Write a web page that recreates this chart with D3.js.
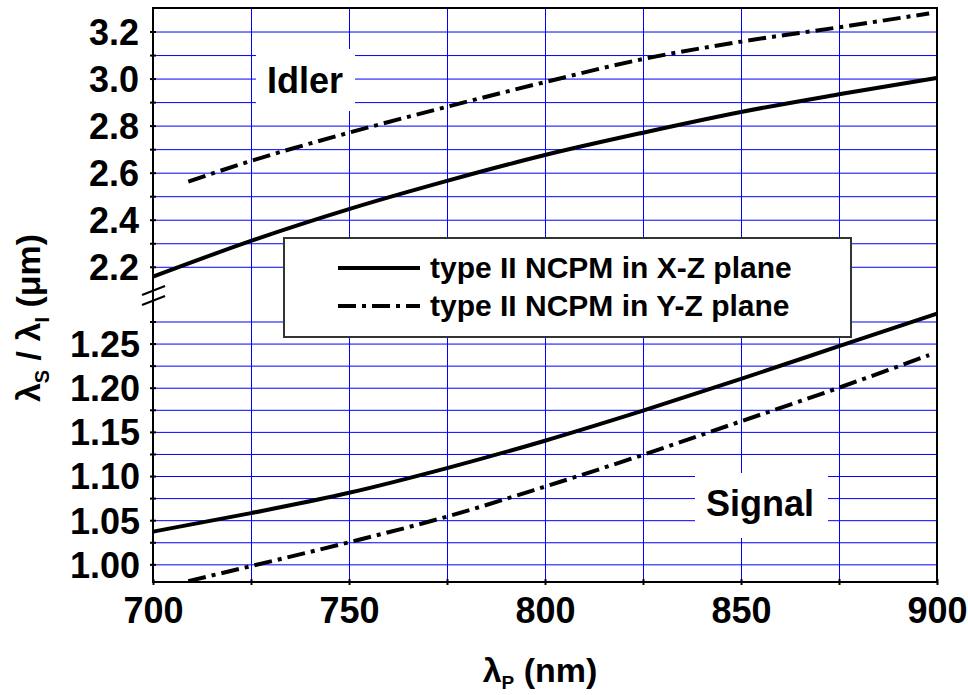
<!DOCTYPE html>
<html>
<head>
<meta charset="utf-8">
<script src="https://cdn.jsdelivr.net/npm/d3@7"></script>
<style>
body { margin: 0; background: #fff; }
text { font-family: "Liberation Sans", Arial, sans-serif; font-weight: bold; fill: #000; }
</style>
</head>
<body>
<div id="chart"></div>
<script>
// pump wavelength (nm) and signal / idler wavelengths (um)
var xzLambda = [700, 725, 750, 775, 800, 825, 850, 875, 900];
var xzIdler  = [2.158, 2.31, 2.445, 2.565, 2.675, 2.77, 2.858, 2.933, 3.003];
var xzSignal = [1.037, 1.058, 1.081, 1.109, 1.140, 1.174, 1.210, 1.247, 1.284];

var yzLambda = [709, 725, 750, 775, 800, 825, 850, 875, 898];
var yzIdler  = [2.562, 2.65, 2.77, 2.88, 2.985, 3.083, 3.157, 3.218, 3.277];
var yzSignal = [0.981, 0.998, 1.025, 1.054, 1.088, 1.124, 1.162, 1.200, 1.237];

var xTicks = [700, 750, 800, 850, 900];
var xGrid = [725, 750, 775, 800, 825, 850, 875];
var upperTicks = [2.2, 2.4, 2.6, 2.8, 3.0, 3.2];
var upperGrid = [2.2, 2.3, 2.4, 2.5, 2.6, 2.7, 2.8, 2.9, 3.0, 3.1, 3.2];
var lowerTicks = [1.00, 1.05, 1.10, 1.15, 1.20, 1.25];
var lowerGrid = [1.00, 1.025, 1.05, 1.075, 1.10, 1.125, 1.15, 1.175, 1.20, 1.225, 1.25, 1.275];

var W = 968, H = 695;
var pLeft = 153, pRight = 937, pTop = 8, pBottom = 582, brk = 295;

var svg = d3.select("#chart").append("svg")
    .attr("width", W)
    .attr("height", H);

var x = d3.scaleLinear().domain([700, 900]).range([pLeft, pRight]);
var yUp = d3.scaleLinear().domain([2.08, 3.3]).range([brk, pTop]);
var yLo = d3.scaleLinear().domain([0.98, 1.305]).range([pBottom, brk]);

var blue = "#0000ff";

// grid
var grid = svg.append("g");
grid.append("g")
    .attr("transform", "translate(0," + pBottom + ")")
    .call(d3.axisBottom(x).tickValues(xGrid).tickSize(-(pBottom - pTop)).tickFormat(""))
    .call(function(g) { g.select(".domain").remove(); g.selectAll("line").attr("stroke", blue); });
grid.append("g")
    .attr("transform", "translate(" + pLeft + ",0)")
    .call(d3.axisLeft(yUp).tickValues(upperGrid).tickSize(-(pRight - pLeft)).tickFormat(""))
    .call(function(g) { g.select(".domain").remove(); g.selectAll("line").attr("stroke", blue); });
grid.append("g")
    .attr("transform", "translate(" + pLeft + ",0)")
    .call(d3.axisLeft(yLo).tickValues(lowerGrid).tickSize(-(pRight - pLeft)).tickFormat(""))
    .call(function(g) { g.select(".domain").remove(); g.selectAll("line").attr("stroke", blue); });

// white label boxes
svg.append("rect").attr("x", 256).attr("y", 49).attr("width", 99).attr("height", 62).attr("fill", "#fff");
svg.append("rect").attr("x", 695).attr("y", 473).attr("width", 133).attr("height", 65).attr("fill", "#fff");
svg.append("text").attr("x", 305).attr("y", 93).attr("text-anchor", "middle")
    .style("font-size", "36px").text("Idler");
svg.append("text").attr("x", 760).attr("y", 516).attr("text-anchor", "middle")
    .style("font-size", "36px").text("Signal");

// curves
var dashDot = "18,6,4,6";
function curve(lams, vals, y, dash) {
  var line = d3.line()
      .x(function(d, i) { return x(lams[i]); })
      .y(function(d) { return y(d); })
      .curve(d3.curveMonotoneX);
  svg.append("path")
      .datum(vals)
      .attr("d", line)
      .attr("fill", "none")
      .attr("stroke", "#000")
      .attr("stroke-width", 4)
      .attr("stroke-dasharray", dash);
}
curve(xzLambda, xzIdler, yUp, null);
curve(xzLambda, xzSignal, yLo, null);
curve(yzLambda, yzIdler, yUp, dashDot);
curve(yzLambda, yzSignal, yLo, dashDot);

// legend
var lg = svg.append("g");
lg.append("rect").attr("x", 284).attr("y", 238).attr("width", 567).attr("height", 99)
    .attr("fill", "#fff").attr("stroke", "#333").attr("stroke-width", 2);
var legendItems = [
  {label: "type II NCPM in X-Z plane", dash: null},
  {label: "type II NCPM in Y-Z plane", dash: dashDot}
];
legendItems.forEach(function(d, i) {
  var yy = 268 + i * 38;
  lg.append("line").attr("x1", 338).attr("x2", 420).attr("y1", yy).attr("y2", yy)
      .attr("stroke", "#000").attr("stroke-width", 4).attr("stroke-dasharray", d.dash);
  lg.append("text").attr("x", 430).attr("y", yy + 10).style("font-size", "30px").text(d.label);
});

// frame
svg.append("rect").attr("x", pLeft).attr("y", pTop).attr("width", pRight - pLeft).attr("height", pBottom - pTop)
    .attr("fill", "none").attr("stroke", "#000").attr("stroke-width", 2);

// axes: ticks and labels
function tickCross(g) {
  g.select(".domain").remove();
  g.selectAll(".tick line").attr("x1", -3).attr("x2", 3).attr("stroke", "#000").attr("stroke-width", 2);
}
svg.append("g").attr("transform", "translate(" + pLeft + ",0)")
    .call(d3.axisLeft(yUp).tickValues(upperGrid).tickFormat("")).call(tickCross);
svg.append("g").attr("transform", "translate(" + pLeft + ",0)")
    .call(d3.axisLeft(yLo).tickValues(lowerGrid).tickFormat("")).call(tickCross);

function labelsOnly(g) {
  g.select(".domain").remove();
  g.selectAll(".tick line").remove();
  g.selectAll("text").style("font-size", "36px").style("font-family", null).attr("fill", "#000");
}
svg.append("g").attr("transform", "translate(" + (pLeft - 14) + ",0)")
    .call(d3.axisLeft(yUp).tickValues(upperTicks).tickSize(0).tickPadding(0).tickFormat(d3.format(".1f")))
    .call(labelsOnly)
    .call(function(g) { g.selectAll("text").attr("dy", "0.36em"); });
svg.append("g").attr("transform", "translate(" + (pLeft - 13) + ",0)")
    .call(d3.axisLeft(yLo).tickValues(lowerTicks).tickSize(0).tickPadding(0).tickFormat(d3.format(".2f")))
    .call(labelsOnly)
    .call(function(g) { g.selectAll("text").attr("dy", "0.36em"); });

svg.append("g").attr("transform", "translate(0," + pBottom + ")")
    .call(d3.axisBottom(x).tickValues(xGrid.concat([700, 900])).tickFormat(""))
    .call(function(g) {
      g.select(".domain").remove();
      g.selectAll(".tick line").attr("y1", -3).attr("y2", 3).attr("stroke", "#000").attr("stroke-width", 2);
    });
svg.append("g").attr("transform", "translate(0," + pBottom + ")")
    .call(d3.axisBottom(x).tickValues(xTicks).tickSize(0).tickPadding(0).tickFormat(d3.format("d")))
    .call(labelsOnly)
    .call(function(g) { g.selectAll("text").attr("y", 41).attr("dy", 0); });

// axis break marks
var brkG = svg.append("g").attr("stroke", "#000").attr("stroke-width", 2);
[-5, 5].forEach(function(o) {
  brkG.append("line").attr("x1", pLeft - 11).attr("y1", brk + o + 5).attr("x2", pLeft + 12).attr("y2", brk + o - 4);
});

// axis titles
var xt = svg.append("text").attr("x", 540).attr("y", 682).attr("text-anchor", "middle").style("font-size", "34px");
xt.append("tspan").text("λ");
xt.append("tspan").attr("dy", 7).style("font-size", "19px").text("P");
xt.append("tspan").attr("dy", -7).text(" (nm)");

var yt = svg.append("text").attr("transform", "translate(40,318) rotate(-90)")
    .attr("text-anchor", "middle").style("font-size", "34px");
yt.append("tspan").text("λ");
yt.append("tspan").attr("dy", 9).style("font-size", "20px").text("S");
yt.append("tspan").attr("dy", -9).text(" / λ");
yt.append("tspan").attr("dy", 9).style("font-size", "20px").text("I");
yt.append("tspan").attr("dy", -9).text(" (μm)");
</script>
</body>
</html>
